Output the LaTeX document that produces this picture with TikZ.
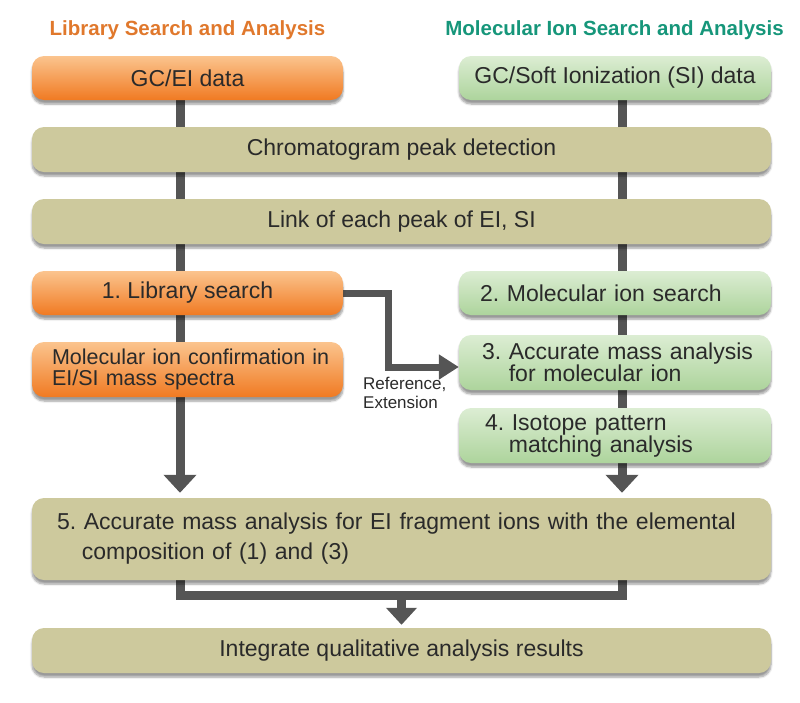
\documentclass[tikz,border=0pt]{standalone}
\usepackage{fontspec}
\setmainfont{Liberation Sans}
\usetikzlibrary{arrows.meta,shadows.blur,backgrounds,calc}
\definecolor{orTop}{HTML}{FBC48E}
\definecolor{orBot}{HTML}{F07A22}
\definecolor{grTop}{HTML}{DCEDD3}
\definecolor{grBot}{HTML}{ADD49C}
\definecolor{olive}{HTML}{CDC99D}
\definecolor{conn}{HTML}{555555}
\definecolor{txt}{HTML}{2A2A2A}
\definecolor{hdOr}{HTML}{E0782C}
\definecolor{hdGr}{HTML}{16967A}
\newcommand{\lpad}[1]{\hspace*{#1}}
\begin{document}
\frenchspacing
\begin{tikzpicture}[x=1pt,y=-1pt,
  hdr/.style={font=\fontsize{20.5}{22}\selectfont\bfseries, inner sep=0pt},
  box/.style={rounded corners=12pt, minimum height=44pt, inner sep=0pt, text=txt,
    font=\fontsize{23}{22}\selectfont,
    blur shadow={shadow xshift=0pt, shadow yshift=-4pt, shadow opacity=40, shadow blur steps=6}},
  orbox/.style={box, top color=orTop, bottom color=orBot},
  grbox/.style={box, top color=grTop, bottom color=grBot},
  olbox/.style={box, fill=olive},
  lbox/.style={align=left, text width=#1},
  trunk/.style={draw=conn, line width=9pt},
  tip/.style={-{Triangle[width=32pt,length=18pt]}},
  xarrow/.style={draw=conn, line width=7pt, -{Triangle[width=24pt,length=20pt]}},
  lbl/.style={font=\fontsize{17}{19}\selectfont, align=left, text=txt, inner sep=0pt}
]
\useasboundingbox (0,0) rectangle (800,702);
% headers
\node[hdr, text=hdOr] (h1) at (187.5,30) {Library Search and Analysis};
\node[hdr, text=hdGr] (h2) at (614.5,30) {Molecular Ion Search and Analysis};
% boxes
\node[orbox, minimum width=311pt] (ei) at (187.5,78) {GC/EI data};
\node[grbox, minimum width=312pt] (si) at (615,78) {GC/Soft Ionization (SI) data};
\node[olbox, minimum width=739pt, minimum height=45pt] (chrom) at (401.5,149.5) {Chromatogram peak detection};
\node[olbox, minimum width=739pt, minimum height=45pt] (link) at (401.5,221.5) {Link of each peak of EI, SI};
\node[orbox, minimum width=311pt] (lib) at (187.5,293) {1. Library search};
\node[grbox, lbox=312pt] (mis) at (615,293) {\lpad{21pt}2. Molecular ion search};
\node[orbox, lbox=311pt, minimum height=55pt, font=\fontsize{21.5}{21}\selectfont] (conf) at (187.5,369.5) {\lpad{20pt}Molecular ion confirmation in\\\lpad{20pt}EI/SI mass spectra};
\node[grbox, lbox=312pt, minimum height=55pt] (acc) at (615,362.5) {\lpad{23pt}3. Accurate mass analysis\\\lpad{23pt}\hphantom{3. }for molecular ion};
\node[grbox, lbox=312pt, minimum height=55pt] (iso) at (615,435.5) {\lpad{26pt}4. Isotope pattern\\\lpad{23pt}\hphantom{4. }matching analysis};
\node[olbox, lbox=739pt, minimum height=82pt, font=\fontsize{23}{30}\selectfont] (five) at (401.5,539) {\lpad{25pt}5. Accurate mass analysis for EI fragment ions with the elemental\\\lpad{23pt}\hphantom{5. }composition of (1) and (3)};
\node[olbox, minimum width=739pt, minimum height=45pt] (integ) at (401.5,650.5) {Integrate qualitative analysis results};
\node[lbl, anchor=north west] (ref) at (363,377) {Reference,\\Extension};
% helper coordinates
\coordinate (xL) at (180,0);
\coordinate (xR) at (622,0);
\coordinate (bend) at (388,0);
\coordinate (ain) at ([yshift=-4.5pt]acc.west);
\coordinate (bar) at (0,595);
\begin{pgfonlayer}{background}
  % left trunk
  \draw[trunk] (ei.south -| xL) -- (chrom.north -| xL);
  \draw[trunk] (chrom.south -| xL) -- (link.north -| xL);
  \draw[trunk] (link.south -| xL) -- (lib.north -| xL);
  \draw[trunk] (lib.south -| xL) -- (conf.north -| xL);
  \draw[trunk, tip, shorten >=5pt] (conf.south -| xL) -- (five.north -| xL);
  % right trunk
  \draw[trunk] (si.south -| xR) -- (chrom.north -| xR);
  \draw[trunk] (chrom.south -| xR) -- (link.north -| xR);
  \draw[trunk] (link.south -| xR) -- (mis.north -| xR);
  \draw[trunk] (mis.south -| xR) -- (acc.north -| xR);
  \draw[trunk] (acc.south -| xR) -- (iso.north -| xR);
  \draw[trunk, tip, shorten >=5pt] (iso.south -| xR) -- (five.north -| xR);
  % cross arrow
  \draw[xarrow] (lib.east) -| (bend |- ain) -- (ain);
  % bottom bracket
  \draw[trunk] (five.south -| xL) -- (bar -| xL) -- (bar -| xR) -- (five.south -| xR);
  \draw[trunk, -{Triangle[width=30pt,length=17pt]}, shorten >=3pt] (bar -| integ.north) -- (integ.north);
\end{pgfonlayer}
\end{tikzpicture}
\end{document}
